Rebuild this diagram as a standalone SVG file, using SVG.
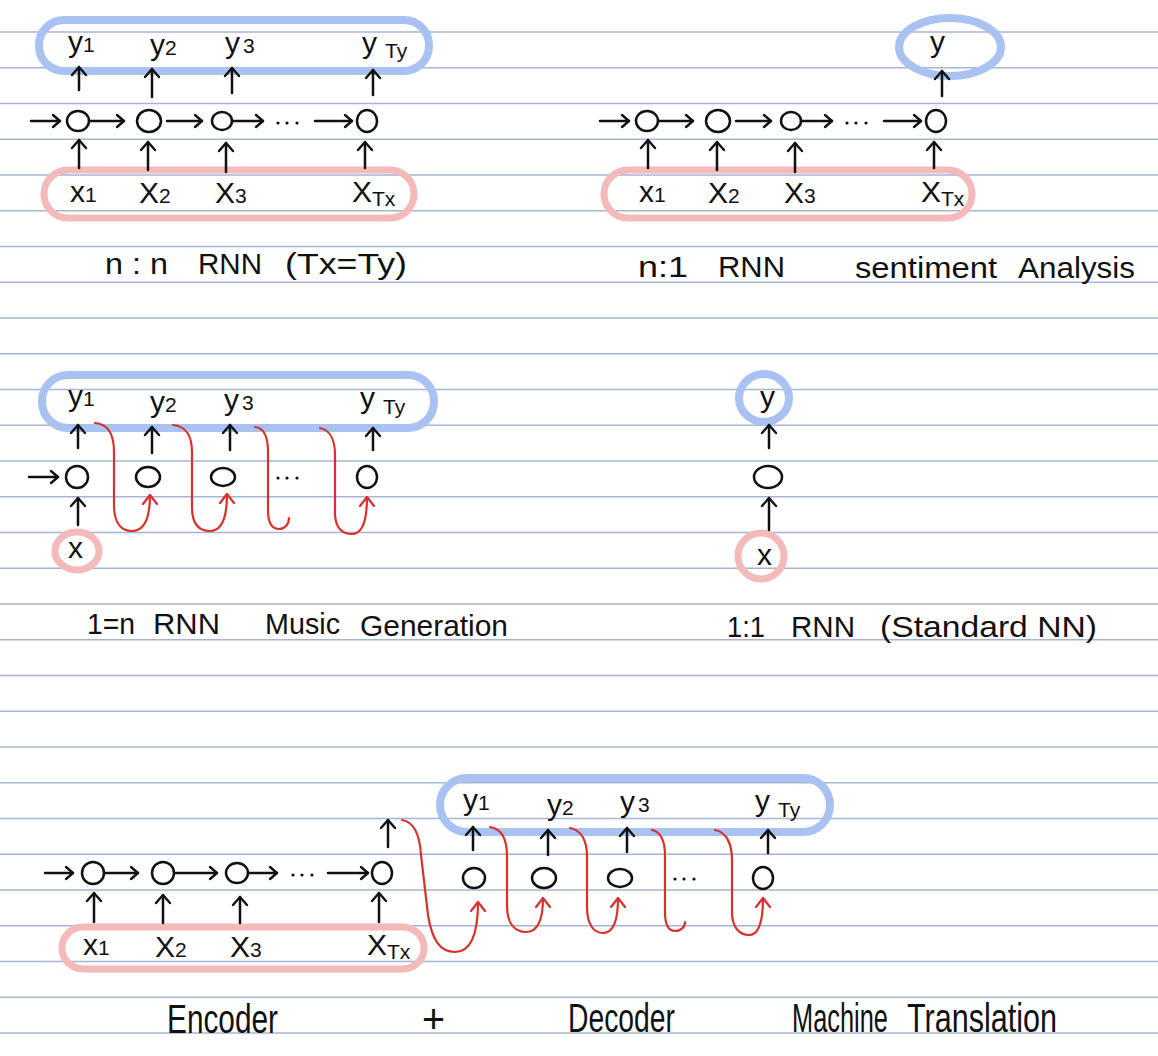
<svg xmlns="http://www.w3.org/2000/svg" width="1158" height="1056" viewBox="0 0 1158 1056">
<defs>
<style>
.ln{stroke:#a6b5d3;stroke-width:1.4}
.ink{stroke:#111;stroke-width:2.5;fill:none;stroke-linecap:round;stroke-linejoin:round}
.red{stroke:#d8312b;stroke-width:2.2;fill:none;stroke-linecap:round}
.blue{stroke:#a9c2f2;stroke-width:8;fill:none}
.pink{stroke:#f4b9b9;stroke-width:7;fill:none}
.t{font-family:"Liberation Sans","DejaVu Sans",sans-serif;fill:#111;font-size:30px}
.s{font-size:21px}
.c{font-family:"Liberation Sans","DejaVu Sans",sans-serif;fill:#111;font-size:30px}
.cb{font-family:"Liberation Sans","DejaVu Sans",sans-serif;fill:#111;font-size:40px}
.up{marker-end:url(#ah)}
.rt{marker-end:url(#ahs)}
.ra{marker-end:url(#ahr)}
</style>
<marker id="ah" viewBox="-10 -10 20 20" markerWidth="20" markerHeight="20" refX="0" refY="0" orient="auto" markerUnits="userSpaceOnUse"><path d="M-8,-7 L0,0 L-8,7" fill="none" stroke="#111" stroke-width="2.4" stroke-linecap="round" stroke-linejoin="round"/></marker>
<marker id="ahs" viewBox="-10 -10 20 20" markerWidth="20" markerHeight="20" refX="0" refY="0" orient="auto" markerUnits="userSpaceOnUse"><path d="M-7,-6 L0,0 L-7,6" fill="none" stroke="#111" stroke-width="2.4" stroke-linecap="round" stroke-linejoin="round"/></marker>
<marker id="ahr" viewBox="-10 -10 20 20" markerWidth="20" markerHeight="20" refX="0" refY="0" orient="auto" markerUnits="userSpaceOnUse"><path d="M-9,-7 L0,0 L-9,7" fill="none" stroke="#d8312b" stroke-width="2.2" stroke-linecap="round" stroke-linejoin="round"/></marker>
</defs>
<rect width="1158" height="1056" fill="#fff"/>
<g id="paper">
<line class="ln" x1="0" x2="1158" y1="32" y2="32"/><line class="ln" x1="0" x2="1158" y1="67.75" y2="67.75"/><line class="ln" x1="0" x2="1158" y1="103.5" y2="103.5"/><line class="ln" x1="0" x2="1158" y1="139.25" y2="139.25"/><line class="ln" x1="0" x2="1158" y1="175" y2="175"/><line class="ln" x1="0" x2="1158" y1="210.75" y2="210.75"/><line class="ln" x1="0" x2="1158" y1="246.5" y2="246.5"/><line class="ln" x1="0" x2="1158" y1="282.25" y2="282.25"/><line class="ln" x1="0" x2="1158" y1="318" y2="318"/><line class="ln" x1="0" x2="1158" y1="353.75" y2="353.75"/><line class="ln" x1="0" x2="1158" y1="389.5" y2="389.5"/><line class="ln" x1="0" x2="1158" y1="425.25" y2="425.25"/><line class="ln" x1="0" x2="1158" y1="461" y2="461"/><line class="ln" x1="0" x2="1158" y1="496.75" y2="496.75"/><line class="ln" x1="0" x2="1158" y1="532.5" y2="532.5"/><line class="ln" x1="0" x2="1158" y1="568.25" y2="568.25"/><line class="ln" x1="0" x2="1158" y1="604" y2="604"/><line class="ln" x1="0" x2="1158" y1="639.75" y2="639.75"/><line class="ln" x1="0" x2="1158" y1="675.5" y2="675.5"/><line class="ln" x1="0" x2="1158" y1="711.25" y2="711.25"/><line class="ln" x1="0" x2="1158" y1="747" y2="747"/><line class="ln" x1="0" x2="1158" y1="782.75" y2="782.75"/><line class="ln" x1="0" x2="1158" y1="818.5" y2="818.5"/><line class="ln" x1="0" x2="1158" y1="854.25" y2="854.25"/><line class="ln" x1="0" x2="1158" y1="890" y2="890"/><line class="ln" x1="0" x2="1158" y1="925.75" y2="925.75"/><line class="ln" x1="0" x2="1158" y1="961.5" y2="961.5"/><line class="ln" x1="0" x2="1158" y1="997.25" y2="997.25"/><line class="ln" x1="0" x2="1158" y1="1033" y2="1033"/>
</g>
<g id="highlights">
<rect class="blue" x="39" y="20" width="390" height="51" rx="25"/>
<rect class="pink" x="44" y="170" width="370" height="48" rx="24"/>
<ellipse class="blue" cx="950" cy="47" rx="51" ry="29"/>
<rect class="pink" x="604" y="170" width="368" height="48" rx="24"/>
<rect class="blue" x="42" y="375" width="392" height="53" rx="26"/>
<ellipse class="pink" cx="77" cy="551" rx="22" ry="19"/>
<ellipse class="blue" cx="764" cy="398" rx="25" ry="24"/>
<ellipse class="pink" cx="761" cy="556" rx="23" ry="23"/>
<rect class="pink" x="62" y="927" width="362" height="42" rx="21"/>
<rect class="blue" x="440" y="778" width="390" height="54" rx="27"/>
</g>
<g id="p1-nodes">
<g id="p1-y1"><text class="t" x="68" y="52">y<tspan class="s">1</tspan></text></g>
<g id="p1-y2"><text class="t" x="150" y="55">y<tspan class="s">2</tspan></text></g>
<g id="p1-y3"><text class="t" x="225" y="53">y<tspan class="s" dx="3">3</tspan></text></g>
<g id="p1-yT"><text class="t" x="362" y="53">y<tspan class="s" dx="8" dy="5">Ty</tspan></text></g>
<g id="p1-h1"><ellipse class="ink" cx="78" cy="121" rx="11" ry="10"/></g>
<g id="p1-h2"><ellipse class="ink" cx="149" cy="121" rx="12" ry="11"/></g>
<g id="p1-h3"><ellipse class="ink" cx="222" cy="121" rx="10" ry="9"/></g>
<g id="p1-hT"><ellipse class="ink" cx="367" cy="121" rx="10" ry="11"/></g>
<g id="p1-dots"><circle cx="278" cy="123" r="1.6" fill="#111"/><circle cx="287" cy="123" r="1.6" fill="#111"/><circle cx="297" cy="123" r="1.6" fill="#111"/></g>
<g id="p1-x1"><text class="t" x="70" y="202">x<tspan class="s">1</tspan></text></g>
<g id="p1-x2"><text class="t" x="139" y="203">X<tspan class="s">2</tspan></text></g>
<g id="p1-x3"><text class="t" x="215" y="203">X<tspan class="s">3</tspan></text></g>
<g id="p1-xT"><text class="t" x="352" y="202">X<tspan class="s" dy="4">Tx</tspan></text></g>
<g id="p1-cap"><text class="c" x="105" y="274" textLength="63" lengthAdjust="spacingAndGlyphs">n : n</text><text class="c" x="198" y="274" textLength="64" lengthAdjust="spacingAndGlyphs">RNN</text><text class="c" x="285" y="274" textLength="122" lengthAdjust="spacingAndGlyphs">(Tx=Ty)</text></g>
</g>
<g id="p2-nodes">
<g id="p2-y"><text class="t" x="930" y="52">y</text></g>
<g id="p2-h1"><ellipse class="ink" cx="647" cy="121" rx="11" ry="10"/></g>
<g id="p2-h2"><ellipse class="ink" cx="718" cy="121" rx="12" ry="11"/></g>
<g id="p2-h3"><ellipse class="ink" cx="791" cy="121" rx="10" ry="9"/></g>
<g id="p2-hT"><ellipse class="ink" cx="936" cy="121" rx="10" ry="11"/></g>
<g id="p2-dots"><circle cx="847" cy="123" r="1.6" fill="#111"/><circle cx="856" cy="123" r="1.6" fill="#111"/><circle cx="866" cy="123" r="1.6" fill="#111"/></g>
<g id="p2-x1"><text class="t" x="639" y="202">x<tspan class="s">1</tspan></text></g>
<g id="p2-x2"><text class="t" x="708" y="203">X<tspan class="s">2</tspan></text></g>
<g id="p2-x3"><text class="t" x="784" y="203">X<tspan class="s">3</tspan></text></g>
<g id="p2-xT"><text class="t" x="921" y="202">X<tspan class="s" dy="4">Tx</tspan></text></g>
<g id="p2-cap"><text class="c" x="638" y="277" textLength="50" lengthAdjust="spacingAndGlyphs">n:1</text><text class="c" x="718" y="277" textLength="67" lengthAdjust="spacingAndGlyphs">RNN</text><text class="c" x="855" y="278" textLength="142" lengthAdjust="spacingAndGlyphs">sentiment</text><text class="c" x="1018" y="278" textLength="117" lengthAdjust="spacingAndGlyphs">Analysis</text></g>
</g>
<g id="p3-nodes">
<g id="p3-y1"><text class="t" x="68" y="406">y<tspan class="s">1</tspan></text></g>
<g id="p3-y2"><text class="t" x="150" y="412">y<tspan class="s">2</tspan></text></g>
<g id="p3-y3"><text class="t" x="224" y="410">y<tspan class="s" dx="3">3</tspan></text></g>
<g id="p3-yT"><text class="t" x="360" y="408">y<tspan class="s" dx="8" dy="6">Ty</tspan></text></g>
<g id="p3-h1"><ellipse class="ink" cx="77" cy="477" rx="11" ry="11"/></g>
<g id="p3-h2"><ellipse class="ink" cx="148" cy="477" rx="12" ry="10"/></g>
<g id="p3-h3"><ellipse class="ink" cx="223" cy="477" rx="12" ry="9"/></g>
<g id="p3-hT"><ellipse class="ink" cx="367" cy="477" rx="10" ry="11"/></g>
<g id="p3-dots"><circle cx="278" cy="478" r="1.6" fill="#111"/><circle cx="287" cy="478" r="1.6" fill="#111"/><circle cx="297" cy="478" r="1.6" fill="#111"/></g>
<g id="p3-x"><text class="t" x="68" y="558">x</text></g>
<g id="p3-cap"><text class="c" x="87" y="634" textLength="48" lengthAdjust="spacingAndGlyphs">1=n</text><text class="c" x="153" y="634" textLength="67" lengthAdjust="spacingAndGlyphs">RNN</text><text class="c" x="265" y="634" textLength="75" lengthAdjust="spacingAndGlyphs">Music</text><text class="c" x="360" y="636" textLength="148" lengthAdjust="spacingAndGlyphs">Generation</text></g>
</g>
<g id="p4-nodes">
<g id="p4-y"><text class="t" x="760" y="407">y</text></g>
<g id="p4-h"><ellipse class="ink" cx="768" cy="477" rx="14" ry="11"/></g>
<g id="p4-x"><text class="t" x="757" y="565">x</text></g>
<g id="p4-cap"><text class="c" x="727" y="637" textLength="38" lengthAdjust="spacingAndGlyphs">1:1</text><text class="c" x="791" y="637" textLength="64" lengthAdjust="spacingAndGlyphs">RNN</text><text class="c" x="880" y="637" textLength="217" lengthAdjust="spacingAndGlyphs">(Standard NN)</text></g>
</g>
<g id="p5-nodes">
<g id="p5-h1"><ellipse class="ink" cx="93" cy="873" rx="11" ry="11"/></g>
<g id="p5-h2"><ellipse class="ink" cx="163" cy="873" rx="11" ry="11"/></g>
<g id="p5-h3"><ellipse class="ink" cx="237" cy="873" rx="11" ry="10"/></g>
<g id="p5-hT"><ellipse class="ink" cx="382" cy="873" rx="10" ry="11"/></g>
<g id="p5-dots"><circle cx="293" cy="875" r="1.6" fill="#111"/><circle cx="302" cy="875" r="1.6" fill="#111"/><circle cx="312" cy="875" r="1.6" fill="#111"/></g>
<g id="p5-x1"><text class="t" x="83" y="955">x<tspan class="s">1</tspan></text></g>
<g id="p5-x2"><text class="t" x="155" y="957">X<tspan class="s">2</tspan></text></g>
<g id="p5-x3"><text class="t" x="230" y="957">X<tspan class="s">3</tspan></text></g>
<g id="p5-xT"><text class="t" x="367" y="955">X<tspan class="s" dy="4">Tx</tspan></text></g>
<g id="p5-cap"><text class="cb" transform="translate(167,1033) scale(0.745,1)" x="0" y="0" textLength="149" lengthAdjust="spacingAndGlyphs">Encoder</text><text class="cb" x="422" y="1033" textLength="23" lengthAdjust="spacingAndGlyphs">+</text></g>
</g>
<g id="p6-nodes">
<g id="p6-y1"><text class="t" x="463" y="810">y<tspan class="s">1</tspan></text></g>
<g id="p6-y2"><text class="t" x="547" y="815">y<tspan class="s">2</tspan></text></g>
<g id="p6-y3"><text class="t" x="620" y="812">y<tspan class="s" dx="3">3</tspan></text></g>
<g id="p6-yT"><text class="t" x="755" y="811">y<tspan class="s" dx="8" dy="6">Ty</tspan></text></g>
<g id="p6-h1"><ellipse class="ink" cx="474" cy="878" rx="11" ry="10"/></g>
<g id="p6-h2"><ellipse class="ink" cx="544" cy="878" rx="12" ry="10"/></g>
<g id="p6-h3"><ellipse class="ink" cx="620" cy="878" rx="12" ry="9"/></g>
<g id="p6-hT"><ellipse class="ink" cx="763" cy="878" rx="10" ry="11"/></g>
<g id="p6-dots"><circle cx="675" cy="879" r="1.6" fill="#111"/><circle cx="684" cy="879" r="1.6" fill="#111"/><circle cx="694" cy="879" r="1.6" fill="#111"/></g>
<g id="p6-cap"><text class="cb" transform="translate(568,1032) scale(0.708,1)" x="0" y="0" textLength="151" lengthAdjust="spacingAndGlyphs">Decoder</text><text class="cb" transform="translate(792,1032) scale(0.635,1)" x="0" y="0" textLength="151" lengthAdjust="spacingAndGlyphs">Machine</text><text class="cb" transform="translate(907,1032) scale(0.758,1)" x="0" y="0" textLength="198" lengthAdjust="spacingAndGlyphs">Translation</text></g>
</g>
<g id="connectors">
<line class="ink up" x1="79" y1="90" x2="79" y2="67"/>
<line class="ink up" x1="152" y1="97" x2="152" y2="69"/>
<line class="ink up" x1="232" y1="93" x2="232" y2="68"/>
<line class="ink up" x1="373" y1="95" x2="373" y2="70"/>
<line class="ink rt" x1="31" y1="121" x2="60" y2="121"/>
<line class="ink rt" x1="89" y1="121" x2="124" y2="121"/>
<line class="ink rt" x1="167" y1="121" x2="202" y2="121"/>
<line class="ink rt" x1="232" y1="121" x2="263" y2="121"/>
<line class="ink rt" x1="315" y1="121" x2="352" y2="121"/>
<line class="ink up" x1="79" y1="168" x2="79" y2="140"/>
<line class="ink up" x1="148" y1="170" x2="148" y2="142"/>
<line class="ink up" x1="226" y1="172" x2="226" y2="143"/>
<line class="ink up" x1="365" y1="168" x2="365" y2="142"/>
<line class="ink up" x1="942" y1="96" x2="942" y2="71"/>
<line class="ink rt" x1="600" y1="121" x2="629" y2="121"/>
<line class="ink rt" x1="658" y1="121" x2="693" y2="121"/>
<line class="ink rt" x1="736" y1="121" x2="771" y2="121"/>
<line class="ink rt" x1="801" y1="121" x2="832" y2="121"/>
<line class="ink rt" x1="884" y1="121" x2="921" y2="121"/>
<line class="ink up" x1="648" y1="168" x2="648" y2="140"/>
<line class="ink up" x1="717" y1="170" x2="717" y2="142"/>
<line class="ink up" x1="795" y1="172" x2="795" y2="143"/>
<line class="ink up" x1="934" y1="168" x2="934" y2="142"/>
<line class="ink up" x1="78" y1="448" x2="78" y2="425"/>
<line class="ink up" x1="152" y1="453" x2="152" y2="427"/>
<line class="ink up" x1="230" y1="450" x2="230" y2="425"/>
<line class="ink up" x1="373" y1="450" x2="373" y2="428"/>
<line class="ink rt" x1="29" y1="477" x2="58" y2="477"/>
<line class="ink up" x1="78" y1="525" x2="78" y2="498"/>
<path class="red ra" d="M95,423 C109,424 114,436 114,452 L114,505 C114,524 122,531 132,531 C144,531 150,518 150,495"/>
<path class="red ra" d="M173,425 C187,426 192,438 192,452 L192,507 C192,525 200,531 210,531 C222,531 227,518 227,494"/>
<path class="red" d="M255,427 C266,428 268,440 268,452 L268,510 C268,524 272,529 279,529 C285,529 289,524 289,518"/>
<path class="red ra" d="M320,428 C331,430 335,442 335,455 L335,515 C336,529 343,534 352,534 C363,534 367,520 367,497"/>
<line class="ink up" x1="769" y1="448" x2="769" y2="425"/>
<line class="ink up" x1="769" y1="530" x2="769" y2="498"/>
<line class="ink rt" x1="45" y1="873" x2="73" y2="873"/>
<line class="ink rt" x1="104" y1="873" x2="138" y2="873"/>
<line class="ink rt" x1="175" y1="873" x2="217" y2="873"/>
<line class="ink rt" x1="248" y1="873" x2="277" y2="873"/>
<line class="ink rt" x1="328" y1="873" x2="368" y2="873"/>
<line class="ink up" x1="94" y1="922" x2="94" y2="893"/>
<line class="ink up" x1="163" y1="923" x2="163" y2="895"/>
<line class="ink up" x1="240" y1="923" x2="240" y2="897"/>
<line class="ink up" x1="379" y1="922" x2="379" y2="893"/>
<line class="ink up" x1="388" y1="847" x2="388" y2="820"/>
<line class="ink up" x1="473" y1="850" x2="473" y2="827"/>
<line class="ink up" x1="548" y1="855" x2="548" y2="830"/>
<line class="ink up" x1="627" y1="852" x2="627" y2="828"/>
<line class="ink up" x1="768" y1="853" x2="768" y2="830"/>
<path class="red ra" d="M402,820 C415,822 420,838 421,855 L428,915 C432,940 440,952 455,952 C472,952 478,930 478,902"/>
<path class="red ra" d="M490,827 C503,829 507,842 507,856 L507,905 C507,924 515,932 526,932 C538,932 543,918 543,898"/>
<path class="red ra" d="M570,828 C582,830 587,842 587,856 L587,907 C587,925 594,933 603,933 C614,933 618,920 618,898"/>
<path class="red" d="M652,830 C662,832 665,843 665,856 L665,912 C665,926 669,931 675,931 C681,931 685,927 685,922"/>
<path class="red ra" d="M715,830 C727,832 732,845 732,860 L732,912 C732,928 740,935 749,935 C759,935 763,920 763,898"/>
</g>
</svg>
